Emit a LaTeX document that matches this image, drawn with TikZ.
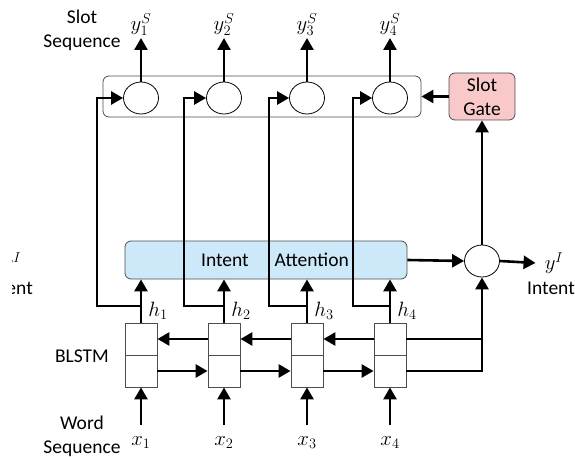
\documentclass[tikz,border=0pt]{standalone}
\usepackage{fontspec}
\setmainfont{Carlito}
\usetikzlibrary{arrows.meta,positioning,shapes.geometric,calc}
\definecolor{gatepink}{HTML}{F9C9C9}
\definecolor{attblue}{HTML}{CCE8F9}
\definecolor{boxline}{HTML}{4D4D4D}
\tikzset{
  arr/.style={-{Triangle[length=12pt,width=13pt]}, line width=2.6pt},
  wire/.style={line width=2.6pt},
  unit/.style={ellipse, draw, fill=white, line width=0.8pt,
    minimum width=35pt, minimum height=32pt, inner sep=0pt},
  cellbox/.style={draw=boxline, line width=0.8pt,
    minimum width=32pt, minimum height=32pt, inner sep=0pt},
  framebox/.style={draw=boxline, rounded corners=6pt, line width=0.8pt},
  gatebox/.style={draw=boxline, fill=gatepink, rounded corners=6pt, line width=0.8pt,
    align=center, minimum width=66pt, minimum height=47pt, inner sep=0pt},
  attbox/.style={draw=boxline, fill=attblue, rounded corners=6pt, line width=0.8pt,
    minimum width=282pt, minimum height=38pt, inner sep=0pt},
  lbl/.style={align=center, inner sep=0pt},
  mathlbl/.style={font=\fontsize{22pt}{26pt}\selectfont}
}

\begin{document}
\begin{tikzpicture}[x=1pt, y=-1pt, font=\fontsize{19.5pt}{24pt}\selectfont]
    \useasboundingbox (0,0) rectangle (575,457);
    \node[framebox, minimum width=318pt, minimum height=41pt] (frame) at (262,96.5) {};
    \node[gatebox] (gate) at (482,96.5) {Slot\\Gate};
    \node[attbox] (att) at (266,260) {\hspace*{18pt}Intent\hspace{26pt}Attention};
    \node[unit] (yI) at (482,261) {};
    \node[lbl] (slotseq) at (82,30) {Slot\\Sequence};
    \node[lbl] (blstm) at (82,356) {BLSTM};
    \node[lbl] (wordseq) at (82,436) {Word\\Sequence};
    \foreach \i/\x/\cx in {1/141/97, 2/224/184, 3/307/269, 4/390/353} {
      \node[unit] (s\i) at (\x,98) {};
      \node[mathlbl, anchor=south, inner sep=2pt] (ys\i) at (\x,38) {$y_{\i}^{S}$};
      \node[cellbox] (bw\i) at (\x,339) {};
      \node[cellbox] (fw\i) at (\x,371) {};
      \node[mathlbl, anchor=north, inner ysep=11pt, inner xsep=0pt] (x\i) at (\x,425) {$x_{\i}$};
      \node[mathlbl] (h\i) at (\x+17,311) {$h_{\i}$};
      \coordinate (j\i) at (\x,306);
      \coordinate (c\i) at (\cx,98);
      \draw[arr] (s\i.north) -- (ys\i.south);
      \draw[arr] (x\i.north) -- (fw\i.south);
      \draw[arr] (bw\i.north) -- (att.south -| bw\i.north);
      \draw[arr] (j\i) -| (c\i) -- (s\i.west);
    }
    \foreach \i/\j in {1/2, 2/3, 3/4} {
      \draw[arr] (bw\j.west) -- (bw\i.east);
      \draw[arr] (fw\i.east) -- (fw\j.west);
    }
    % intent side
    \node[mathlbl, inner xsep=9pt, inner ysep=0pt] (yIl) at (554,263) {$y^{I}$};
    \node[lbl] (intent) at (551,288) {Intent};
    \draw[wire] (bw4.east) -- (bw4.east -| yI.south);
    \draw[arr] (fw4.east) -| (yI.south);
    \draw[arr] (att.east) -- (yI.west);
    \draw[arr] (yI.east) -- (yIl.west);
    \draw[arr] (yI.north) -- (gate.south);
    \draw[arr] (gate.west) -- (frame.east);
    % cut-off labels at the left edge
    \begin{scope}
      \clip (12,230) rectangle (60,310);
      \node[mathlbl, inner sep=0pt] (yIcut) at (12,263) {$y^{I}$};
      \node[lbl] (intentcut) at (9,288) {Intent};
    \end{scope}
\end{tikzpicture}
\end{document}
